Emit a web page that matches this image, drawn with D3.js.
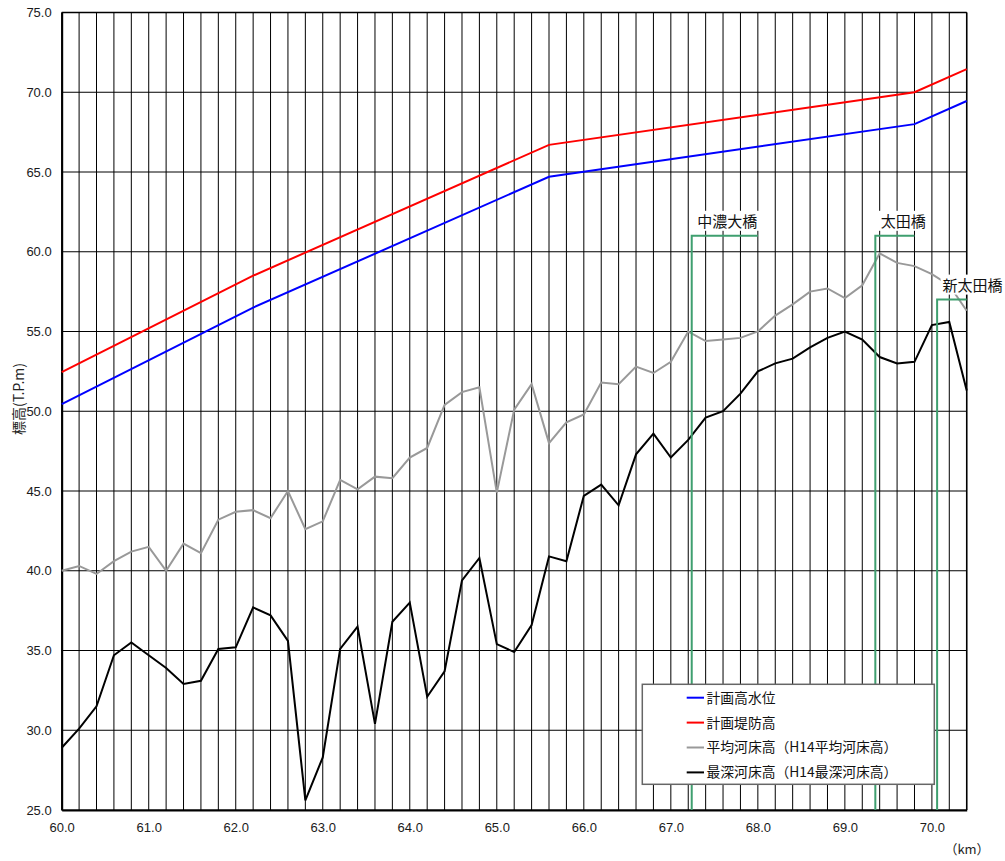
<!DOCTYPE html>
<html><head><meta charset="utf-8">
<script src="https://cdn.jsdelivr.net/npm/d3@7"></script>
<style>
html,body{margin:0;padding:0;background:#fff;}
svg{display:block;}
</style></head>
<body>
<svg id="chart" width="1005" height="861"></svg>
<script>
// ---- data ----
const kmPoints = [60.0,60.2,60.4,60.6,60.8,61.0,61.2,61.4,61.6,61.8,62.0,62.2,62.4,62.6,62.8,63.0,63.2,63.4,63.6,63.8,64.0,64.2,64.4,64.6,64.8,65.0,65.2,65.4,65.6,65.8,66.0,66.2,66.4,66.6,66.8,67.0,67.2,67.4,67.6,67.8,68.0,68.2,68.4,68.6,68.8,69.0,69.2,69.4,69.6,69.8,70.0,70.2,70.4];
const avgBed = [40.0,40.3,39.8,40.6,41.2,41.5,40.0,41.7,41.1,43.2,43.7,43.8,43.3,45.0,42.6,43.1,45.7,45.1,45.9,45.8,47.1,47.7,50.4,51.2,51.5,44.9,50.1,51.7,48.0,49.3,49.8,51.8,51.7,52.8,52.4,53.1,55.0,54.4,54.5,54.6,55.0,56.0,56.7,57.5,57.7,57.1,57.9,59.9,59.3,59.1,58.6,57.9,56.3];
const deepBed = [28.9,30.1,31.5,34.7,35.5,34.7,33.9,32.9,33.1,35.1,35.2,37.7,37.2,35.6,25.6,28.3,35.1,36.5,30.4,36.8,38.0,32.1,33.7,39.4,40.8,35.4,34.9,36.6,40.9,40.6,44.7,45.4,44.1,47.3,48.6,47.1,48.2,49.6,50.0,51.1,52.5,53.0,53.3,54.0,54.6,55.0,54.5,53.4,53.0,53.1,55.4,55.6,51.3];
const planKm = [60.0,62.2,65.6,69.8,70.4];
const planHWL = [50.45,56.5,64.7,68.0,69.45];
const planLevee = [52.45,58.5,66.7,70.0,71.45];
const bridgeNames = ["中濃大橋","太田橋","新太田橋"];
const bridgeLeft = [67.24,69.35,70.06];
const bridgeRight = [68.0,69.8,70.4];
const bridgeTop = [61.0,61.0,57.0];
const seriesNames = ["計画高水位","計画堤防高","平均河床高（H14平均河床高）","最深河床高（H14最深河床高）"];
const seriesColors = ["#0000ff","#ff0000","#999999","#000000"];
const xTicks = [60,61,62,63,64,65,66,67,68,69,70];
const yTicks = [25,30,35,40,45,50,55,60,65,70,75];
const xTitle = "（km）";
const yTitle = "標高(T.P.m)";

// ---- layout ----
const L = 61.7, R = 966.7, T = 12.5, B = 810;
const x = d3.scaleLinear().domain([60,70.4]).range([L,R]);
const y = d3.scaleLinear().domain([25,75]).range([B,T]);
const svg = d3.select("#chart");
const numFont = "'Liberation Sans', Arial, sans-serif";
const jpFont = "'Noto Sans CJK JP', 'Noto Sans', sans-serif";

// grid
const g = svg.append("g");
g.selectAll("line.v").data(kmPoints).enter().append("line")
  .attr("x1", d=>x(d)).attr("x2", d=>x(d)).attr("y1", T).attr("y2", B)
  .attr("stroke","#000").attr("stroke-width",1);
g.selectAll("line.h").data(yTicks).enter().append("line")
  .attr("x1", L).attr("x2", R).attr("y1", d=>y(d)).attr("y2", d=>y(d))
  .attr("stroke","#000").attr("stroke-width",1);

// axes
const xAxis = d3.axisBottom(x).tickValues(xTicks).tickFormat(d3.format(".1f")).tickSize(0).tickPadding(13);
const yAxis = d3.axisLeft(y).tickValues(yTicks).tickFormat(d3.format(".1f")).tickSize(0).tickPadding(10);
const gx = svg.append("g").attr("transform",`translate(0,${B})`).call(xAxis);
const gy = svg.append("g").attr("transform",`translate(${L},0)`).call(yAxis);
[gx,gy].forEach(a=>{
  a.attr("font-size",null).attr("font-family",null);
  a.select(".domain").attr("stroke","#000").attr("stroke-width",2);
  a.selectAll("text").attr("font-family",numFont).attr("font-size","13px").attr("fill","#1a1a1a");
});
// frame top/right
svg.append("line").attr("x1",L).attr("x2",R).attr("y1",T).attr("y2",T).attr("stroke","#000").attr("stroke-width",1.5);
svg.append("line").attr("x1",R).attr("x2",R).attr("y1",T).attr("y2",B).attr("stroke","#000").attr("stroke-width",1.5);

// series
const line = d3.line().x(d=>x(d[0])).y(d=>y(d[1]));
const plot = (xs, ys, color) => svg.append("path")
  .datum(xs.map((k,i)=>[k,ys[i]]))
  .attr("d", line).attr("fill","none").attr("stroke",color)
  .attr("stroke-width",2).attr("stroke-linejoin","miter");
plot(kmPoints, avgBed, seriesColors[2]);
plot(kmPoints, deepBed, seriesColors[3]);
plot(planKm, planLevee, seriesColors[1]);
plot(planKm, planHWL, seriesColors[0]);

// bridges
const green = "#3f9f6f";
bridgeNames.forEach((name,i)=>{
  const xl = x(bridgeLeft[i]), xr = x(bridgeRight[i]), yt = y(bridgeTop[i]);
  svg.append("path").attr("d", `M${xl},${B}L${xl},${yt}L${xr},${yt}`)
    .attr("fill","none").attr("stroke",green).attr("stroke-width",2);
});
bridgeNames.forEach((name,i)=>{
  const xl = x(bridgeLeft[i]), yt = y(bridgeTop[i]);
  const grp = svg.append("g");
  const t = grp.append("text").attr("x", xl+5.5).attr("y", yt-9)
    .attr("font-family", jpFont).attr("font-size","15px").attr("fill","#111").text(name);
  const bb = t.node().getBBox();
  grp.insert("rect","text").attr("x",bb.x-2).attr("y",bb.y+1).attr("width",bb.width+4).attr("height",bb.height-1).attr("fill","#fff");
});

// legend
const lg = svg.append("g");
lg.append("rect").attr("x",642.3).attr("y",684.3).attr("width",292).attr("height",100)
  .attr("fill","#fff").attr("stroke","#666").attr("stroke-width",1.5);
seriesNames.forEach((n,i)=>{
  const yy = 697.7 + i*24.9;
  lg.append("line").attr("x1",686.7).attr("x2",704).attr("y1",yy).attr("y2",yy)
    .attr("stroke",seriesColors[i]).attr("stroke-width",2);
  lg.append("text").attr("x",706.5).attr("y",yy).attr("dy","0.36em")
    .attr("font-family",jpFont).attr("font-size","13.8px").attr("fill","#111").text(n);
});

// titles
svg.append("text").attr("x",967).attr("y",854).attr("text-anchor","middle")
  .attr("font-family",jpFont).attr("font-size","13px").attr("fill","#222").text(xTitle);
svg.append("text").attr("transform","translate(19,399) rotate(-90)").attr("text-anchor","middle")
  .attr("dy","0.35em").attr("font-family",jpFont).attr("font-size","14px").attr("fill","#222").text(yTitle);
</script>
</body></html>
